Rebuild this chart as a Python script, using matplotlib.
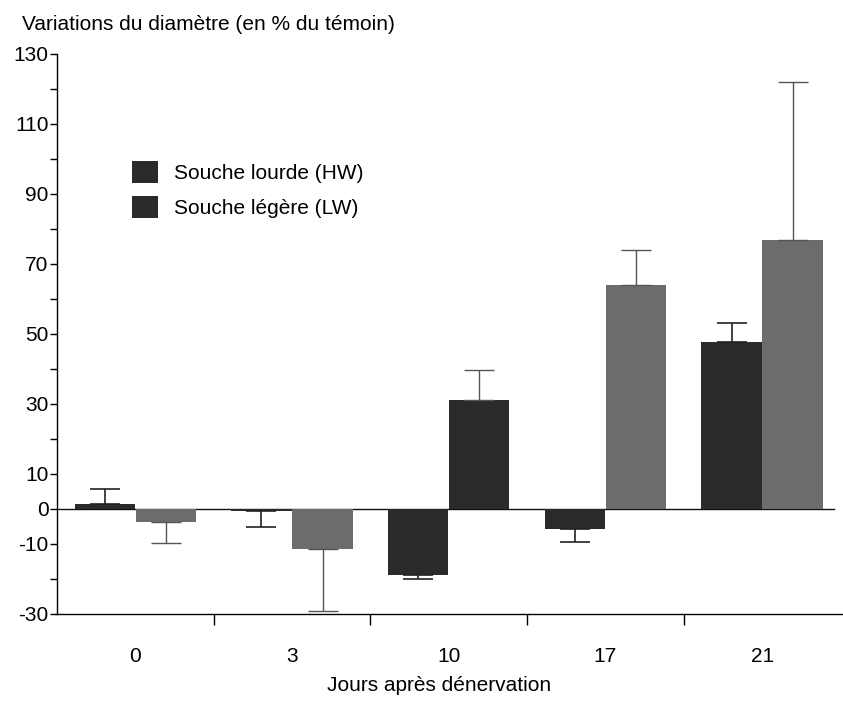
import numpy as np
import matplotlib
matplotlib.use("Agg")
import matplotlib.pyplot as plt
from matplotlib.patches import Patch
from matplotlib.ticker import FixedLocator, FixedFormatter

plt.rcParams['font.family'] = ['Liberation Sans', 'DejaVu Sans']

# values (% of control)
days = ["0", "3", "10", "17", "21"]
hw_vals = [1.4, -0.6, -19.0, -5.8, 47.7]
hw_err = [4.1, 4.5, 1.2, 3.8, 5.3]
lw_vals = [-3.9, -11.6, 31.1, 63.9, 76.8]
lw_err = [6.0, 17.5, 8.5, 10.0, 45.2]

y_ticks = list(range(-30, 131, 10))
y_labeled = [130, 110, 90, 70, 50, 30, 10, 0, -10, -30]

dark = "#2a2a2a"
grey = "#6c6c6c"
# the day-10 LW bar is printed dark in the scan
lw_colors = [grey, grey, dark, grey, grey]


def one_sided(vals, errs):
    # error bar only away from zero
    lo = [e if v < 0 else 0 for v, e in zip(vals, errs)]
    hi = [e if v >= 0 else 0 for v, e in zip(vals, errs)]
    return [lo, hi]


fig = plt.figure(figsize=(8.43, 7.03), dpi=100)
ax = fig.add_axes([57 / 843, 1 - 613.7 / 703, 785 / 843, 560 / 703])

x = np.arange(len(days))
w = 0.385
off = 0.195

ax.bar(x - off, hw_vals, width=w, color=dark, edgecolor='none', zorder=2)
ax.bar(x + off, lw_vals, width=w, color=lw_colors, edgecolor='none', zorder=2)

ax.errorbar(x - off, hw_vals, yerr=one_sided(hw_vals, hw_err), fmt='none',
            ecolor='#222222', elinewidth=1.2, capsize=10.8, capthick=1.2, zorder=3)
ax.errorbar(x + off, lw_vals, yerr=one_sided(lw_vals, lw_err), fmt='none',
            ecolor='#555555', elinewidth=1.0, capsize=10.8, capthick=1.0, zorder=3)

ax.axhline(0, xmin=0, xmax=0.99, color='#111111', lw=1.0, zorder=1)

ax.set_xlim(-0.5, 4.51)
ax.set_ylim(-30, 130)

for s in ['top', 'right']:
    ax.spines[s].set_visible(False)
ax.spines['left'].set_linewidth(1.0)
ax.spines['bottom'].set_linewidth(1.0)

ax.yaxis.set_major_locator(FixedLocator(y_ticks))
ax.yaxis.set_major_formatter(FixedFormatter(
    [str(t) if t in y_labeled else "" for t in y_ticks]))
ax.tick_params(axis='y', length=5, width=1.0, pad=1, labelsize=15)

ax.xaxis.set_major_locator(FixedLocator([0.5, 1.5, 2.5, 3.5]))
ax.xaxis.set_major_formatter(FixedFormatter(["", "", "", ""]))
ax.xaxis.set_minor_locator(FixedLocator(x))
ax.xaxis.set_minor_formatter(FixedFormatter(days))
ax.tick_params(axis='x', which='major', length=8, width=1.0)
ax.tick_params(axis='x', which='minor', length=0, pad=24, labelsize=15)

ax.set_xlabel("Jours après dénervation", fontsize=15)
ax.xaxis.set_label_coords(0.487, -0.112)

fig.text(22 / 843, 1 - 25 / 703, "Variations du diamètre (en % du témoin)",
         fontsize=15, va='center', ha='left')

handles = [Patch(facecolor=dark, edgecolor='none'),
           Patch(facecolor=dark, edgecolor='none')]
fig.legend(handles, ["Souche lourde (HW)", "Souche légère (LW)"],
           loc='upper left', bbox_to_anchor=(132 / 843, 1 - 161 / 703),
           frameon=False, fontsize=15, borderpad=0, borderaxespad=0,
           handlelength=1.25, handleheight=1.25, handletextpad=0.75,
           labelspacing=0.6)

fig.savefig("out.png", dpi=100)
